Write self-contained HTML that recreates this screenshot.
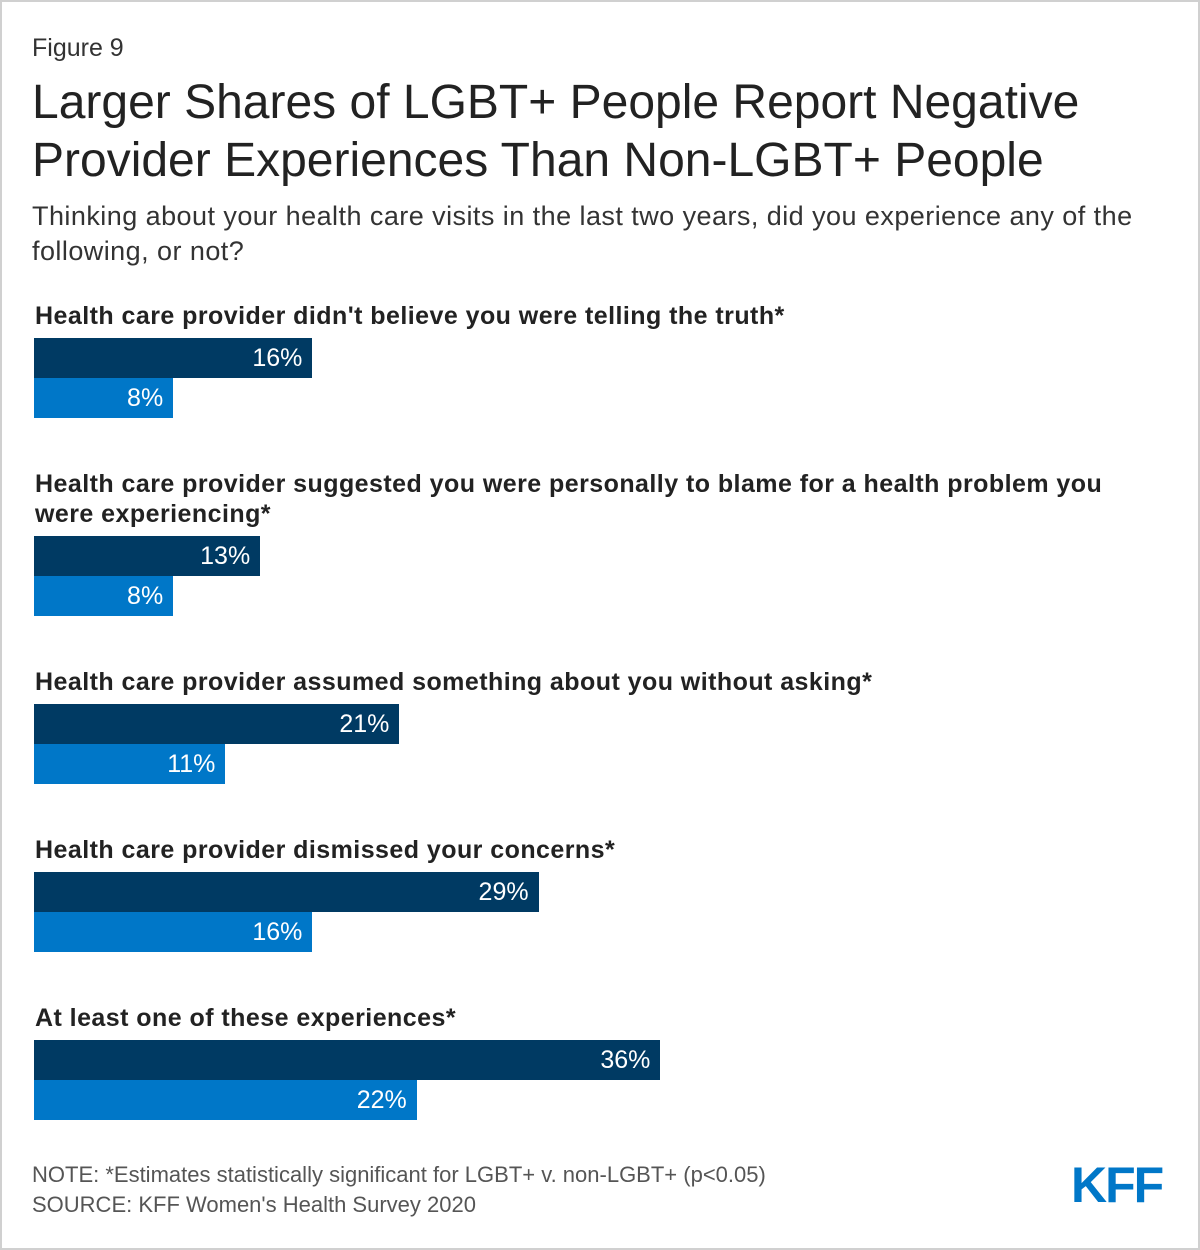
<!DOCTYPE html>
<html><head><meta charset="utf-8"><style>
body{margin:0;width:1200px;height:1250px;background:#fff;font-family:"Liberation Sans",sans-serif;position:relative;overflow:hidden}
.frame{position:absolute;left:0;top:0;width:1196px;height:1246px;border:2px solid #d0d0d0}
.t{position:absolute;white-space:nowrap}
.lab{position:absolute;left:35px;font-weight:bold;font-size:25px;letter-spacing:0.45px;color:#222;line-height:30px;white-space:nowrap}
.bar{position:absolute;left:34px;height:40px;color:#fff;font-size:25px;text-align:right;box-sizing:border-box;padding-right:10px;line-height:40px}
</style></head><body>
<div class="frame"></div>
<div class="t" style="left:32px;top:34px;font-size:25px;color:#333">Figure 9</div>
<div class="t" style="left:32px;top:74px;font-size:48px;color:#222;line-height:58px">Larger Shares of LGBT+ People Report Negative<br>Provider Experiences Than Non-LGBT+ People</div>
<div class="t" style="left:32px;top:199px;font-size:27px;letter-spacing:0.45px;color:#333;line-height:35px">Thinking about your health care visits in the last two years, did you experience any of the<br>following, or not?</div>
<div id="chart"></div>
<div class="t" style="left:32px;top:1162px;font-size:22px;color:#555">NOTE: *Estimates statistically significant for LGBT+ v. non-LGBT+ (p&lt;0.05)</div>
<div class="t" style="left:32px;top:1192px;font-size:22px;color:#555">SOURCE: KFF Women's Health Survey 2020</div>
<div class="t" style="left:1071px;top:1157px;font-size:50px;line-height:56px;font-weight:bold;color:#0077c8;letter-spacing:-2px">KFF</div>
<script>
const categories=["Health care provider didn't believe you were telling the truth*","Health care provider suggested you were personally to blame for a health problem you<br>were experiencing*","Health care provider assumed something about you without asking*","Health care provider dismissed your concerns*","At least one of these experiences*"];
const lgbtValues=[16,13,21,29,36];
const nonLgbtValues=[8,8,11,16,22];
const groupTops=[301,469,667,835,1003];
const labelLines=[1,2,1,1,1];
const scale=v=>v*17.4;
const chart=document.getElementById('chart');
categories.forEach((c,i)=>{
  const l=document.createElement('div');l.className='lab';l.style.top=groupTops[i]+'px';l.innerHTML=c;
  
  
  chart.appendChild(l);
  const by=groupTops[i]+37+(labelLines[i]-1)*30;
  [[lgbtValues[i],'#003a63',0],[nonLgbtValues[i],'#0077c8',40]].forEach(([v,col,off],k)=>{
    const b=document.createElement('div');b.className='bar';b.style.top=(by+off)+'px';
    b.style.width=scale(v)+'px';b.style.background=col;b.textContent=v+'%';
    
    
    chart.appendChild(b);
  });
});
</script>
</body></html>
